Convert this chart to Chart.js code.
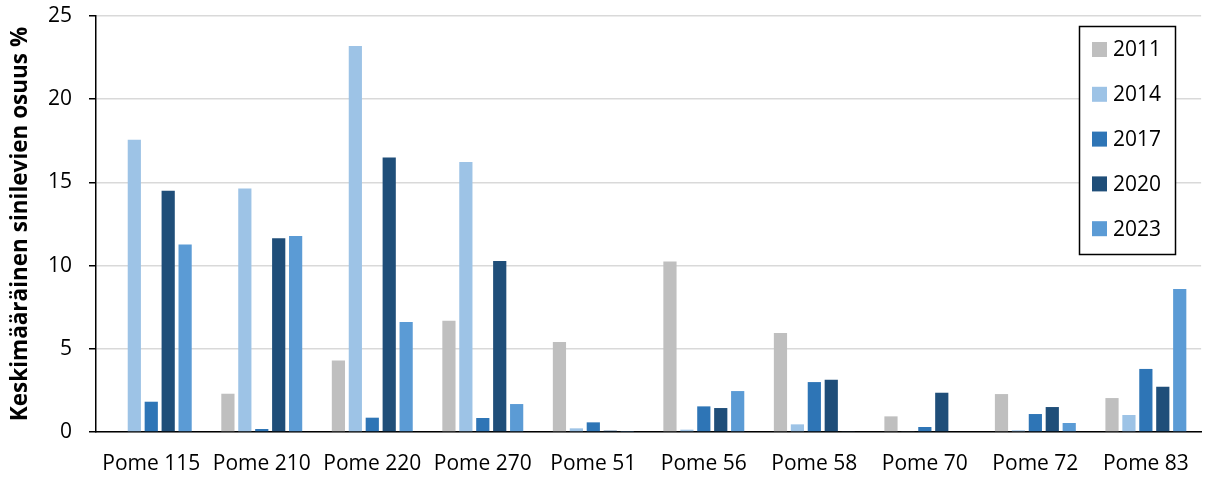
<!DOCTYPE html>
<html>
<head>
<meta charset="utf-8">
<script src="https://cdn.jsdelivr.net/npm/chart.js@4/dist/chart.umd.min.js"></script>
<style>
  html, body { margin: 0; padding: 0; background: #fff; }
  #wrap { width: 1208px; height: 479px; position: relative; }
</style>
</head>
<body>
<div id="wrap"><canvas id="c" width="1208" height="479"></canvas></div>
<script>
// Sampling sites
const categories = ['Pome 115', 'Pome 210', 'Pome 220', 'Pome 270', 'Pome 51', 'Pome 56', 'Pome 58', 'Pome 70', 'Pome 72', 'Pome 83'];

// Mean cyanobacteria share (%) per site and survey year
const years = ['2011', '2014', '2017', '2020', '2023'];
const v2011 = [0,     2.30, 4.30, 6.69, 5.41, 10.24, 5.95, 0.94, 2.28, 2.04];
const v2014 = [17.57, 14.64, 23.2, 16.23, 0.22, 0.14, 0.46, 0.04, 0.10, 1.02];
const v2017 = [1.82,  0.18, 0.86, 0.84, 0.58, 1.54, 3.00, 0.30, 1.08, 3.79];
const v2020 = [14.5,  11.64, 16.5, 10.28, 0.08, 1.44, 3.14, 2.36, 1.50, 2.72];
const v2023 = [11.27, 11.78, 6.61, 1.68, 0.03, 2.46, 0.05, 0,    0.54, 8.59];

// Y axis ticks
const yTicks = [0, 5, 10, 15, 20, 25];

const colors = ['#BFBFBF', '#9DC3E6', '#2E75B6', '#1F4E79', '#5B9BD5'];
const series = [v2011, v2014, v2017, v2020, v2023];

const FONT = '"Open Sans", "Liberation Sans", sans-serif';

// Boxed legend drawn inside the plot area, top right
const boxLegend = {
  id: 'boxLegend',
  afterDraw(chart) {
    const ctx = chart.ctx;
    const x0 = 1079, y0 = 26, w = 96, h = 228;
    ctx.save();
    ctx.fillStyle = '#fff';
    ctx.fillRect(x0, y0, w, h);
    ctx.strokeStyle = '#000';
    ctx.lineWidth = 1.5;
    ctx.strokeRect(x0 + 0.5, y0 + 0.5, w, h);
    ctx.font = '21px ' + FONT;
    ctx.textBaseline = 'middle';
    ctx.textAlign = 'left';
    chart.data.datasets.forEach((ds, i) => {
      const cy = 49.5 + i * 44.8;
      ctx.fillStyle = ds.backgroundColor;
      ctx.fillRect(1092, cy - 7.5, 15, 15);
      ctx.fillStyle = '#000';
      ctx.fillText(ds.label, 1113, cy + 1);
    });
    ctx.restore();
  }
};

new Chart(document.getElementById('c'), {
  type: 'bar',
  data: {
    labels: categories,
    datasets: years.map((y, i) => ({
      label: y,
      data: series[i],
      backgroundColor: colors[i],
      borderWidth: 0,
      categoryPercentage: 0.766,
      barPercentage: 0.78
    }))
  },
  options: {
    responsive: false,
    animation: false,
    layout: { padding: { left: 0, right: 3, top: 16, bottom: 0 } },
    plugins: {
      legend: { display: false },
      title: { display: false },
      tooltip: { enabled: false }
    },
    scales: {
      x: {
        grid: { display: false, drawTicks: false },
        border: { display: true, color: '#000', width: 1.5 },
        ticks: {
          color: '#000',
          font: { family: FONT, size: 21 },
          padding: 19,
          maxRotation: 0,
          autoSkip: false
        },
        afterFit(s) { s.height = 47; }
      },
      y: {
        min: 0,
        max: 25,
        afterBuildTicks(s) { s.ticks = yTicks.map(v => ({ value: v })); },
        grid: { color: '#D9D9D9', lineWidth: 1.5, tickLength: 7, tickColor: '#000', tickWidth: 1.5 },
        border: { display: true, color: '#000', width: 1.5 },
        ticks: {
          color: '#000',
          font: { family: FONT, size: 21 },
          padding: 17
        },
        title: {
          display: true,
          text: 'Keskimääräinen sinilevien osuus %',
          color: '#000',
          font: { family: FONT, size: 22.5, weight: 'bold' },
          padding: { top: 7, bottom: 0 }
        },
        afterFit(s) {
          s.width = 96;
          // keep the plot top fixed by the layout padding alone
          s.paddingTop = 0;
          s.paddingBottom = 0;
        }
      }
    }
  },
  plugins: [boxLegend]
});
</script>
</body>
</html>
